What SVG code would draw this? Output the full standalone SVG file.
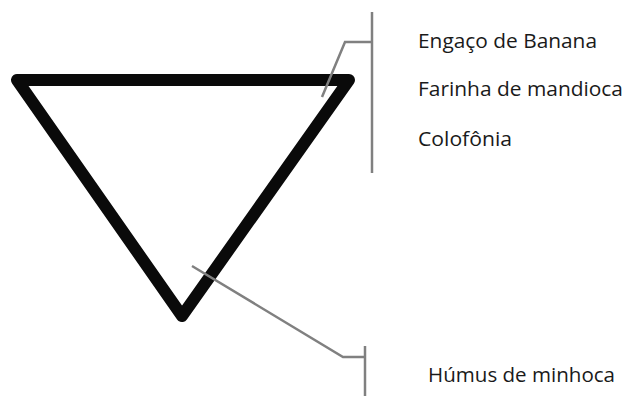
<svg xmlns="http://www.w3.org/2000/svg" width="625" height="396" viewBox="0 0 625 396">
<style>
.lbl{font-family:"Open Sans","Liberation Sans",sans-serif;font-size:19.5px;fill:#1a1a1a}
.ln{fill:none;stroke:#808080;stroke-width:2.5}
</style>
<rect width="625" height="396" fill="#fff"/>
<g id="triangle">
<polygon points="17,80 349,80 182,316" fill="none" stroke="#0a0a0a" stroke-width="12" stroke-linejoin="round"/>
</g>
<g id="connectors">
<polyline class="ln" points="322,97 345,42 372,42"/>
<line class="ln" x1="372" y1="12" x2="372" y2="173"/>
<polyline class="ln" points="192,266 343,357 365,357"/>
<line class="ln" x1="365" y1="346" x2="365" y2="396"/>
</g>
<g id="labels-top">
<text class="lbl" x="418" y="48" textLength="179" lengthAdjust="spacingAndGlyphs">Engaço de Banana</text>
<text class="lbl" x="418" y="96" textLength="205" lengthAdjust="spacingAndGlyphs">Farinha de mandioca</text>
<text class="lbl" x="418" y="146" textLength="94" lengthAdjust="spacingAndGlyphs">Colofônia</text>
</g>
<g id="label-bottom">
<text class="lbl" x="428" y="382" textLength="187" lengthAdjust="spacingAndGlyphs">Húmus de minhoca</text>
</g>
</svg>
